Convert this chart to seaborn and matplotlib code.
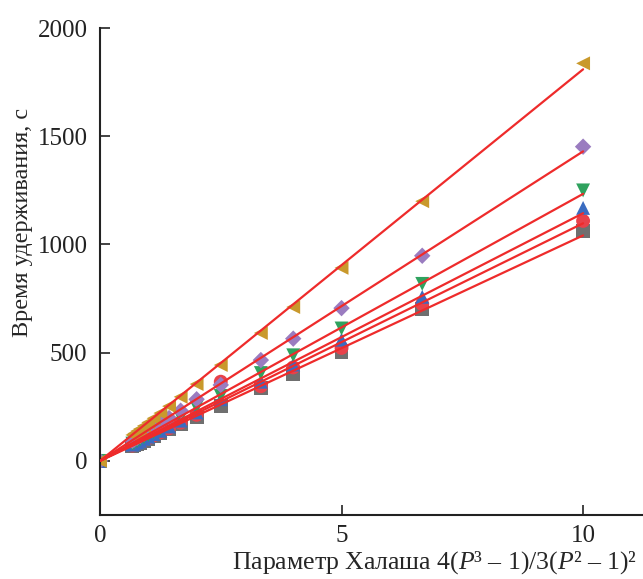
import numpy as np
import pandas as pd
import seaborn as sns
import matplotlib.pyplot as plt

# Halasz parameter values (x) and retention times for six compounds
halasz = [0, 0.67, 0.71, 0.77, 0.83, 0.91, 1.0, 1.11, 1.25, 1.43, 1.67, 2.0, 2.5, 3.33, 4.0, 5.0, 6.67, 10.0]

gray_sq = [0, 68, 72, 78, 84, 92, 102, 113, 127, 145, 170, 202, 252, 337, 400, 505, 700, 1063]
red_circ = [0, 71, 76, 82, 88, 97, 106, 118, 132, 151, 177, 213, 366, 345, 432, 522, 725, 1109]
blue_up = [0, 75, 80, 86, 93, 102, 112, 124, 139, 159, 186, 224, 285, 366, 445, 560, 758, 1169]
green_down = [0, 80, 85, 92, 99, 109, 120, 133, 149, 171, 200, 248, 300, 406, 488, 612, 818, 1250]
purple_dia = [0, 93, 99, 107, 115, 126, 139, 154, 173, 198, 232, 285, 351, 466, 565, 706, 948, 1452]
gold_left = [0, 120, 127, 138, 148, 162, 178, 197, 221, 253, 296, 355, 443, 591, 711, 892, 1200, 1837]

series = [
    ("gray", gray_sq, "s", "#6f6f6f"),
    ("red", red_circ, "o", "#e8414a"),
    ("blue", blue_up, "^", "#3a6cc0"),
    ("green", green_down, "v", "#2fa25e"),
    ("purple", purple_dia, "D", "#9a7cc0"),
    ("gold", gold_left, "<", "#c9992c"),
]

sns.set_style("ticks")
plt.rcParams["font.family"] = ["Liberation Serif", "DejaVu Serif"]
plt.rcParams["mathtext.fontset"] = "custom"
plt.rcParams["mathtext.rm"] = "Liberation Serif"
plt.rcParams["mathtext.it"] = "Liberation Serif:italic"

fig = plt.figure(figsize=(6.43, 5.79), dpi=100)
ax = fig.add_axes([0.1555, 0.1105, 0.8445, 0.841])

x = np.array(halasz)
for name, vals, marker, color in series:
    df = pd.DataFrame({"x": halasz, "y": vals})
    sns.scatterplot(data=df, x="x", y="y", marker=marker, color=color,
                    s=100 if marker != "D" else 70, edgecolor="none", ax=ax, zorder=2)

# least-squares lines through the origin
for name, vals, marker, color in series:
    y = np.array(vals)
    k = (x @ y) / (x @ x)
    fit = pd.DataFrame({"x": [0, 10], "y": [0, 10 * k]})
    sns.lineplot(data=fit, x="x", y="y", color="#ee2b2b", lw=1.6, ax=ax, zorder=3)

ax.set_xlim(0, 11.24)
ax.set_ylim(-250, 2000)
ax.set_xticks([0, 5, 10])
ax.set_yticks([0, 500, 1000, 1500, 2000])
ax.tick_params(direction="in", length=7, width=1.2, labelsize=18, colors="#222222", pad=9)
ax.tick_params(axis="x", pad=7)
for side in ["top", "right"]:
    ax.spines[side].set_visible(False)
for side in ["left", "bottom"]:
    ax.spines[side].set_linewidth(1.5)
    ax.spines[side].set_color("#222222")

ax.set_xlabel("Параметр Халаша 4($\\mathit{P}$³ – 1)/3($\\mathit{P}$² – 1)²",
              fontsize=18.5, loc="right", labelpad=0)
ax.xaxis.set_label_coords(0.99, -0.071)
ax.set_ylabel("Время удерживания, с", fontsize=17.5)
ax.yaxis.set_label_coords(-0.123, 0.60)

fig.savefig("out.png", dpi=100)
